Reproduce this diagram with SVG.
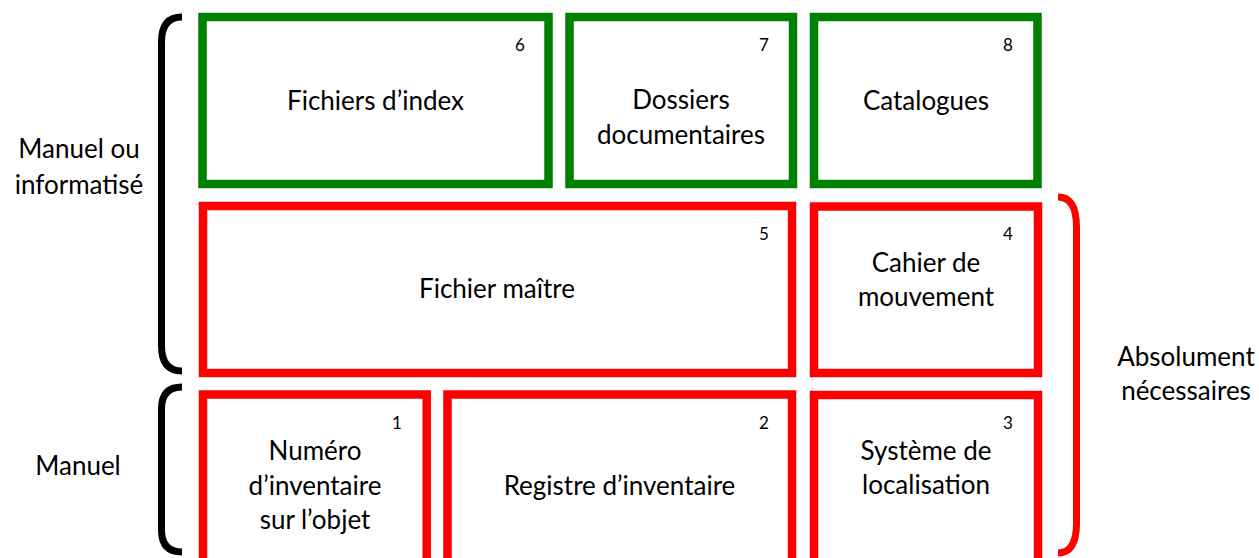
<svg xmlns="http://www.w3.org/2000/svg" width="1259" height="558" viewBox="0 0 1259 558">
<style>
text{font-family:"Lato","Open Sans","Liberation Sans",sans-serif;fill:#000;text-anchor:middle}
.t{font-size:26px}
.n{font-size:17px}
.g{fill:#fff;stroke:#008000;stroke-width:8.5}
.r{fill:#fff;stroke:#ff0000;stroke-width:8.5}
.br{fill:none;stroke-width:7;stroke-linecap:butt}
</style>
<rect width="1259" height="558" fill="#fff"/>
<g id="connectors">
<path class="br" stroke="#000" d="M182,17 Q161.5,17 161.5,42 L161.5,346 Q161.5,371 182,371"/>
<path class="br" stroke="#000" d="M182,387 Q161.5,387 161.5,409 L161.5,530 Q161.5,552 182,552"/>
<path class="br" stroke="#ff0000" d="M1058,197 Q1076.5,197 1076.5,227 L1076.5,523 Q1076.5,553 1058,553"/>
</g>
<g id="node6"><rect class="g" x="202.5" y="17" width="346" height="167"/><text class="n" x="520" y="51">6</text><text class="t" x="375.5" y="110">Fichiers d’index</text></g>
<g id="node7"><rect class="g" x="569.5" y="17" width="223.5" height="167"/><text class="n" x="764" y="51">7</text><text class="t" x="681" y="109">Dossiers</text><text class="t" x="681" y="144">documentaires</text></g>
<g id="node8"><rect class="g" x="814" y="17" width="223.5" height="167"/><text class="n" x="1008" y="51">8</text><text class="t" x="926" y="110">Catalogues</text></g>
<g id="node5"><rect class="r" x="203" y="206" width="589" height="167"/><text class="n" x="764" y="240">5</text><text class="t" x="497" y="298">Fichier maître</text></g>
<g id="node4"><rect class="r" x="814" y="206.5" width="224" height="166.5"/><text class="n" x="1008" y="240">4</text><text class="t" x="926" y="272">Cahier de</text><text class="t" x="926" y="306">mouvement</text></g>
<g id="node1"><rect class="r" x="203" y="394.5" width="223.7" height="200"/><text class="n" x="397" y="429">1</text><text class="t" x="315" y="460">Numéro</text><text class="t" x="315" y="495">d’inventaire</text><text class="t" x="315" y="529">sur l’objet</text></g>
<g id="node2"><rect class="r" x="447.5" y="394.5" width="344.5" height="200"/><text class="n" x="764" y="429">2</text><text class="t" x="619.5" y="495">Registre d’inventaire</text></g>
<g id="node3"><rect class="r" x="814" y="395" width="224" height="200"/><text class="n" x="1008" y="429">3</text><text class="t" x="926" y="460">Système de</text><text class="t" x="926" y="494">localisation</text></g>
<g id="labels">
<text class="t" x="79" y="158">Manuel ou</text>
<text class="t" x="79" y="194">informatisé</text>
<text class="t" x="78" y="475">Manuel</text>
<text class="t" x="1186" y="366">Absolument</text>
<text class="t" x="1186" y="400">nécessaires</text>
</g>
</svg>
